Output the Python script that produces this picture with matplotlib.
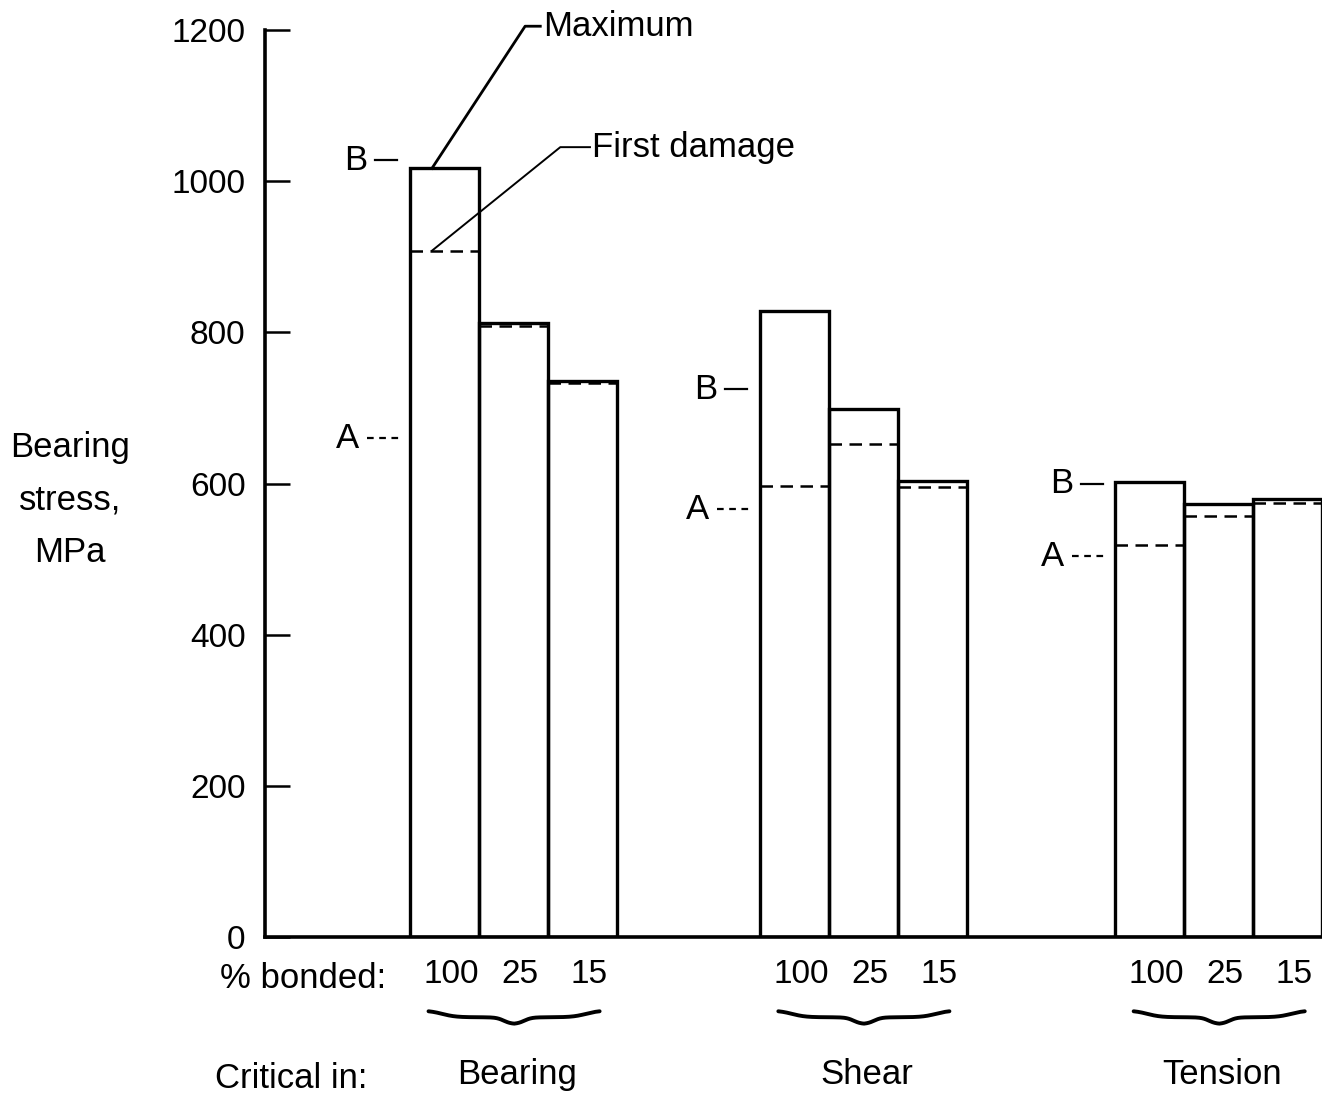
import numpy as np
import matplotlib
matplotlib.use("Agg")
import matplotlib.pyplot as plt
from matplotlib.transforms import blended_transform_factory

plt.rcParams['font.family'] = ['Liberation Sans', 'DejaVu Sans']

# data (MPa)
groups = ['Bearing', 'Shear', 'Tension']
bonded = ['100', '25', '15']
maximum = [[1017, 813, 736],
           [828, 698, 603],
           [602, 573, 580]]
first_damage = [[908, 808, 733],
                [597, 652, 595],
                [519, 557, 574]]
level_b = [1028, 725, 600]
level_a = [660, 566, 504]

group_start = [2.1, 7.17, 12.32]
W = 1.0
FS = 25
TFS = 24

fig = plt.figure(figsize=(13.22, 11.03), dpi=100)
ax = fig.add_axes([265 / 1322, (1103 - 937) / 1103, (1322 - 265) / 1322, (937 - 30) / 1103])
ax.set_xlim(0, 15.32)
ax.set_ylim(0, 1200)

lw = 2.4
xt, xl = [], []
trans = blended_transform_factory(ax.transData, ax.transAxes)
for g in range(3):
    lefts = [group_start[g] + i * W for i in range(3)]
    ax.bar(lefts, maximum[g], width=W, align='edge', fill=False,
           edgecolor='black', linewidth=lw, zorder=3)
    ax.hlines(first_damage[g], lefts, [l + W for l in lefts], colors='black',
              linewidth=1.8, linestyles=(0, (5, 3)), zorder=3)
    xt += [l + W / 2 + 0.1 for l in lefts]
    xl += bonded

    # A / B reference levels
    s = group_start[g]
    ax.plot([s - 0.5, s - 0.18], [level_b[g], level_b[g]], color='black', lw=1.6, clip_on=False)
    ax.text(s - 0.78, level_b[g], 'B', ha='center', va='center', fontsize=FS)
    ax.plot([s - 0.62, s - 0.14], [level_a[g], level_a[g]], color='black', lw=1.6,
            ls=(0, (3, 2.5)), clip_on=False)
    ax.text(s - 0.9, level_a[g], 'A', ha='center', va='center', fontsize=FS)

    # curly brace under each group
    x0, x1 = s + 0.27, s + 2.75
    t = np.linspace(0, 1, 400)
    half = np.where(t < 0.5, t, 1 - t)
    sig = lambda z: 1 / (1 + np.exp(-z))
    yb = -0.081 - 0.0075 * (sig(25 * (half - 0.08)) + sig(45 * (half - 0.44)))
    ax.plot(x0 + t * (x1 - x0), yb, color='black', lw=2.8, transform=trans,
            clip_on=False, solid_capstyle='round')

    ax.text(s + 1.55, -0.152, groups[g], transform=trans, ha='center', va='center', fontsize=FS)

ax.set_xticks(xt)
ax.set_xticklabels(xl, fontsize=TFS)
ax.tick_params(axis='x', length=0, pad=16)

ax.set_yticks(range(0, 1201, 200))
ax.tick_params(axis='y', direction='in', length=18, width=1.8, pad=14, labelsize=TFS)

for side in ['top', 'right']:
    ax.spines[side].set_visible(False)
for side in ['left', 'bottom']:
    ax.spines[side].set_linewidth(2.6)

# leaders
s = group_start[0]
ax.plot([s + 0.32, 3.77, 3.99], [maximum[0][0], 1205, 1205], color='black', lw=2, clip_on=False)
ax.text(4.03, 1205, 'Maximum', ha='left', va='center', fontsize=FS)
ax.plot([s + 0.32, 4.28, 4.71], [first_damage[0][0], 1045, 1045], color='black', lw=1.4, clip_on=False)
ax.text(4.74, 1045, 'First damage', ha='left', va='center', fontsize=FS)

fig.text(70 / 1322, 1 - 500 / 1103, 'Bearing\nstress,\nMPa', ha='center', va='center',
         fontsize=FS, linespacing=1.75, multialignment='center')
fig.text(220 / 1322, 1 - 978 / 1103, '% bonded:', ha='left', va='center', fontsize=FS)
fig.text(215 / 1322, 1 - 1078 / 1103, 'Critical in:', ha='left', va='center', fontsize=FS)

fig.savefig('out.png', dpi=100)
